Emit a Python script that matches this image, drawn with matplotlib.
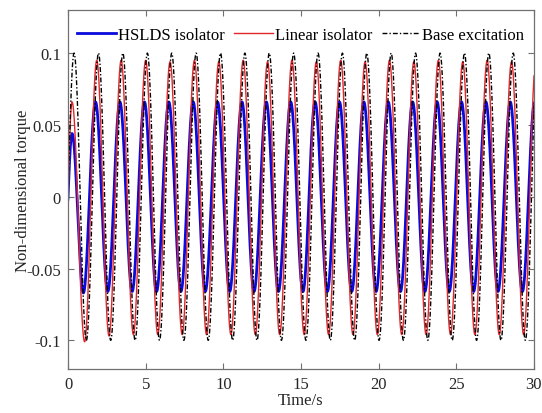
import numpy as np
import matplotlib
matplotlib.use("Agg")
import matplotlib.pyplot as plt

# ---------------------------------------------------------------------------
# Data: time (s) and value of each peak / trough.
# First entry of each list sits just left of t=0 and last just right of t=30
# (both clipped by the axes) so the curves start/end at the right phase.
# ---------------------------------------------------------------------------
base_t = [-0.39, 0.39, 1.18, 1.96, 2.75, 3.53, 4.32, 5.11, 5.89, 6.68, 7.46,
          8.25, 9.03, 9.82, 10.60, 11.39, 12.17, 12.96, 13.74, 14.53, 15.32,
          16.10, 16.89, 17.67, 18.46, 19.24, 20.03, 20.81, 21.60, 22.38, 23.17,
          23.96, 24.74, 25.53, 26.31, 27.10, 27.88, 28.67, 29.45, 30.24]
base_v = [-0.1, 0.1, -0.1, 0.1, -0.1, 0.1, -0.1, 0.1, -0.1, 0.1, -0.1,
          0.1, -0.1, 0.1, -0.1, 0.1, -0.1, 0.1, -0.1, 0.1, -0.1,
          0.1, -0.1, 0.1, -0.1, 0.1, -0.1, 0.1, -0.1, 0.1, -0.1,
          0.1, -0.1, 0.1, -0.1, 0.1, -0.1, 0.1, -0.1, 0.1]

linear_t = [-0.26, 0.26, 1.07, 1.85, 2.64, 3.42, 4.21, 5.00, 5.78, 6.57, 7.35,
            8.14, 8.92, 9.71, 10.49, 11.28, 12.06, 12.85, 13.63, 14.42, 15.21,
            15.99, 16.78, 17.56, 18.35, 19.13, 19.92, 20.70, 21.49, 22.27, 23.06,
            23.85, 24.63, 25.42, 26.20, 26.99, 27.77, 28.56, 29.34, 30.13]
linear_v = [-0.066, 0.066, -0.101, 0.095, -0.097, 0.095, -0.096, 0.095, -0.096, 0.094, -0.096,
            0.095, -0.096, 0.094, -0.096, 0.095, -0.096, 0.094, -0.096, 0.095, -0.096,
            0.094, -0.096, 0.095, -0.096, 0.094, -0.096, 0.095, -0.096, 0.094, -0.096,
            0.095, -0.096, 0.094, -0.096, 0.095, -0.096, 0.094, -0.096, 0.095]

hslds_t = [-0.26, 0.26, 0.99, 1.77, 2.56, 3.34, 4.13, 4.92, 5.70, 6.49, 7.27,
           8.06, 8.84, 9.63, 10.41, 11.20, 11.98, 12.77, 13.55, 14.34, 15.13,
           15.91, 16.70, 17.48, 18.27, 19.05, 19.84, 20.62, 21.41, 22.19, 22.98,
           23.77, 24.55, 25.34, 26.12, 26.91, 27.69, 28.48, 29.26, 30.05]
hslds_v = [-0.044, 0.044, -0.067, 0.066, -0.066, 0.066, -0.066, 0.066, -0.066, 0.066, -0.066,
           0.066, -0.066, 0.066, -0.066, 0.066, -0.066, 0.066, -0.066, 0.066, -0.066,
           0.066, -0.066, 0.066, -0.066, 0.066, -0.066, 0.066, -0.066, 0.066, -0.066,
           0.066, -0.066, 0.066, -0.066, 0.066, -0.066, 0.066, -0.066, 0.066]

x_ticks = [0, 5, 10, 15, 20, 25, 30]
y_ticks = [-0.1, -0.05, 0, 0.05, 0.1]
y_tick_labels = ["-0.1", "-0.05", "0", "0.05", "0.1"]


def smooth(times, values, n=40):
    """Join successive extrema with half-cosine arcs (the swing of an oscillation)."""
    tt, yy = [], []
    for t0, t1, v0, v1 in zip(times[:-1], times[1:], values[:-1], values[1:]):
        s = np.linspace(0, 1, n)
        tt.append(t0 + (t1 - t0) * s)
        yy.append((v0 + v1) / 2 + (v0 - v1) / 2 * np.cos(np.pi * s))
    return np.concatenate(tt), np.concatenate(yy)


plt.rcParams["font.family"] = ["Liberation Serif", "DejaVu Serif"]

fig = plt.figure(figsize=(5.42, 4.14), dpi=100)
ax = fig.add_axes([0.1255, 0.106, 0.8595, 0.8675])

t, y = smooth(hslds_t, hslds_v)
ax.plot(t, y, color="#0a0adc", lw=2.0, label="HSLDS isolator")
t, y = smooth(linear_t, linear_v)
ax.plot(t, y, color="#e3262a", lw=1.0, label="Linear isolator")
t, y = smooth(base_t, base_v)
ax.plot(t, y, color="black", lw=1.0, dashes=(3.5, 1.5, 1, 1.5), label="Base excitation")

ax.set_xlim(0, 30)
ax.set_ylim(-0.12, 0.13)
ax.set_xticks(x_ticks)
ax.set_yticks(y_ticks)
ax.set_yticklabels(y_tick_labels)

grey = "#707070"
for sp in ax.spines.values():
    sp.set_color(grey)
    sp.set_linewidth(0.9)
ax.tick_params(direction="in", top=True, right=True, length=4, width=0.8,
               color=grey, labelcolor="#262626", labelsize=12, pad=5)

ax.set_xlabel("Time/s", fontsize=12, color="#262626", labelpad=0)
ax.set_ylabel("Non-dimensional torque", fontsize=12, color="#262626")
ax.yaxis.set_label_coords(-0.08, 0.5)

ax.legend(loc="upper center", ncol=3, frameon=False, fontsize=12,
          handlelength=2.3, handletextpad=0.15, columnspacing=0.55,
          borderaxespad=0.6, bbox_to_anchor=(0.5, 1.0))

fig.savefig("out.png", dpi=100)
